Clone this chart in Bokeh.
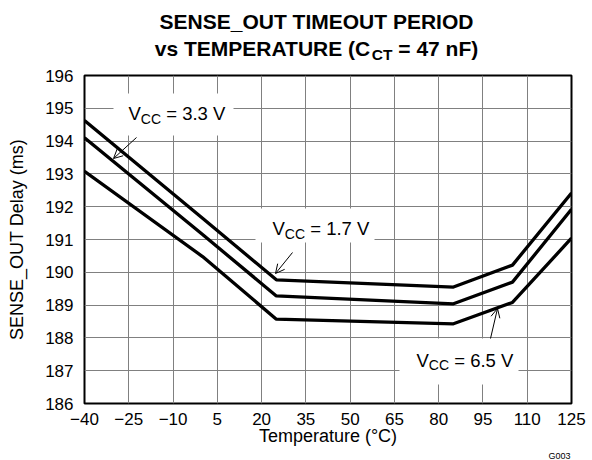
from bokeh.plotting import figure
from bokeh.layouts import column
from bokeh.models import Label, BoxAnnotation, Arrow, OpenHead, FixedTicker, Range1d
from bokeh.embed import file_html
from bokeh.resources import INLINE

# ---- data ----
temperature = [-40, 0, 25, 85, 105, 125]
vcc_1v7 = [194.63, 191.65, 189.77, 189.55, 190.22, 192.42]
vcc_3v3 = [194.10, 191.15, 189.28, 189.04, 189.70, 191.92]
vcc_6v5 = [193.08, 190.48, 188.57, 188.43, 189.08, 191.04]
x_ticks = [-40, -25, -10, 5, 20, 35, 50, 65, 80, 95, 110, 125]
y_ticks = [186, 187, 188, 189, 190, 191, 192, 193, 194, 195, 196]
title_1 = "SENSE_OUT TIMEOUT PERIOD"
x_label = "Temperature (°C)"
y_label = "SENSE_OUT Delay (ms)"
series_labels = ["1.7", "3.3", "6.5"]

FONT = "Liberation Sans"
W = 592
TOP_H, MAIN_H, BOT_H = 65, 384, 11
X0, X1, Y0, Y1 = -40, 125, 186, 196
# frame in picture pixels
FL, FR, FT, FB = 84, 571, 75, 403
XS = (FR - FL) / (X1 - X0)
YS = (FB - FT) / (Y1 - Y0)
SHIFT = 0.33  # baseline correction (em)


def dx(px):
    return X0 + (px - FL) / XS


def dy(py):
    return Y1 - (py - FT) / YS


REG = {'V': 667, 'C': 722, ' ': 278, '=': 584, '.': 278, 'T': 611}
BOLD = {'v': 556, 's': 556, ' ': 278, 'T': 611, 'E': 667, 'M': 833, 'P': 667,
        'R': 722, 'A': 722, 'U': 722, '(': 333, 'C': 722, '=': 584, 'n': 611,
        'F': 611, ')': 333}


def width(text, size, bold=False):
    tab = BOLD if bold else REG
    return sum(tab.get(c, 556) for c in text) * size / 1000.0


def strip(h):
    f = figure(width=W, height=h, x_range=Range1d(FL, FR), y_range=Range1d(h, 0),
               x_axis_type=None, y_axis_type=None, output_backend="svg", title=None,
               toolbar_location=None, min_border_left=FL, min_border_right=W - FR,
               min_border_top=0, min_border_bottom=0)
    f.outline_line_color = None
    f.background_fill_color = "white"
    f.border_fill_color = "white"
    return f


# ---------- title strip (picture y 0..65) ----------
top = strip(TOP_H)
TS = 21
TSUB = 15.5
CX = 316
top.add_layout(Label(x=CX, y=28 - SHIFT * TS, text=title_1, text_align="center",
                     text_baseline="alphabetic", text_font=FONT, text_font_size=f"{TS}px",
                     text_font_style="bold", text_color="black"))
pieces = [("vs TEMPERATURE (C", TS, 0), ("CT", TSUB, 4.5), ("= 47 nF)", TS, 0)]
w_total = width("vs TEMPERATURE (C", TS, True) + width("CT", TSUB, True) + width(" = 47 nF)", TS, True)
xx = CX - w_total / 2
for i, (txt, size, low) in enumerate(pieces):
    if i == 2:
        xx += width(" ", size, True)
    top.add_layout(Label(x=xx, y=55 + low - SHIFT * size, text=txt, text_align="left",
                         text_baseline="alphabetic", text_font=FONT,
                         text_font_size=f"{size}px", text_font_style="bold",
                         text_color="black"))
    xx += width(txt, size, True)

# ---------- main plot (picture y 65..449) ----------
p = figure(width=W, height=MAIN_H, x_range=Range1d(X0, X1), y_range=Range1d(Y0, Y1),
           output_backend="svg", toolbar_location=None, title=None,
           min_border_left=FL, min_border_right=W - FR, min_border_top=FT - TOP_H,
           min_border_bottom=MAIN_H - (FT - TOP_H) - (FB - FT))
p.outline_line_color = "black"
p.outline_line_width = 2
p.background_fill_color = "white"
p.border_fill_color = "white"

for ax in (p.xaxis[0], p.yaxis[0]):
    ax.axis_line_color = None
    ax.major_tick_line_color = None
    ax.minor_tick_line_color = None
    ax.major_tick_out = 0
    ax.major_tick_in = 0
    ax.minor_tick_out = 0
    ax.minor_tick_in = 0
    ax.major_label_text_font = FONT
    ax.major_label_text_font_size = "17px"
    ax.major_label_text_color = "black"
    ax.axis_label_text_font = FONT
    ax.axis_label_text_font_size = "18px"
    ax.axis_label_text_font_style = "normal"
    ax.axis_label_text_color = "black"

p.xaxis.ticker = FixedTicker(ticks=x_ticks)
p.yaxis.ticker = FixedTicker(ticks=y_ticks)
p.xaxis.major_label_overrides = {t: str(t).replace("-", "\u2212") for t in x_ticks if t < 0}
p.xaxis.axis_label = x_label
p.yaxis.axis_label = y_label
p.xaxis.major_label_standoff = 9
p.xaxis.axis_label_standoff = -2
p.yaxis.major_label_standoff = 11
p.yaxis.axis_label_standoff = 15

p.grid.grid_line_color = "#808080"
p.grid.grid_line_width = 1

# label background boxes
boxes = [(113, 233, 93, 135), (255, 374, 208, 242), (399, 518, 338, 384)]
for l, r, t, b in boxes:
    p.add_layout(BoxAnnotation(left=dx(l), right=dx(r), top=dy(t), bottom=dy(b),
                               fill_color="white", fill_alpha=1.0, line_color=None,
                               level="underlay"))

for ys in (vcc_1v7, vcc_3v3, vcc_6v5):
    p.line(temperature, ys, line_color="black", line_width=3.3)

# curve labels
LS = 18.5
LSUB = 14
label_pos = {"3.3": (128, 119.3), "1.7": (272, 234.3), "6.5": (416, 366)}
for v in series_labels:
    px, py = label_pos[v]
    off = 0
    for i, (txt, size, low) in enumerate((("V", LS, 0), ("CC", LSUB, 3.5), (f"= {v} V", LS, 0))):
        if i == 2:
            off += width(" ", size)
        p.add_layout(Label(x=dx(px), y=dy(py + low - SHIFT * size), x_offset=off, text=txt,
                           text_align="left", text_baseline="alphabetic",
                           text_font=FONT, text_font_size=f"{size}px",
                           text_color="black"))
        off += width(txt, size)

arrows = [(136, 137, 113, 158), (292, 252, 275, 273), (490, 338, 497, 308)]
for x0, y0, x1, y1 in arrows:
    p.add_layout(Arrow(x_start=dx(x0), y_start=dy(y0), x_end=dx(x1), y_end=dy(y1),
                       line_color="black", line_width=1,
                       end=OpenHead(size=9, line_width=1, line_color="black")))

# ---------- bottom strip (picture y 449..460) ----------
bot = strip(BOT_H)
bot.add_layout(Label(x=FR - 1, y=(457 - 449) - SHIFT * 9, text="G003", text_align="right",
                     text_baseline="alphabetic", text_font=FONT, text_font_size="9px",
                     text_color="black"))

layout = column(top, p, bot, spacing=0)
open("out.html", "w").write(file_html(layout, INLINE))
